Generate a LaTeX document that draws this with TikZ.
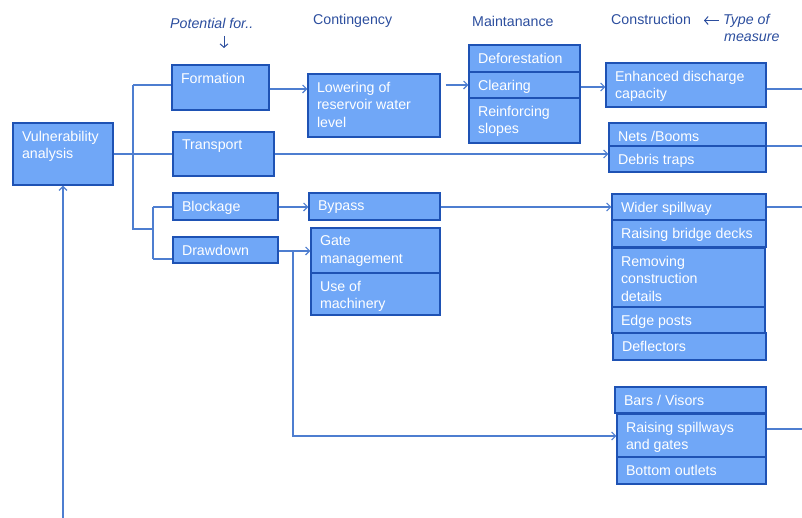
\documentclass[tikz,border=0pt]{standalone}
\usepackage{fontspec}
\setmainfont{Liberation Sans}
\usetikzlibrary{fit,arrows.meta}
\definecolor{boxfill}{RGB}{112,167,247}
\definecolor{boxline}{RGB}{30,82,180}
\definecolor{conn}{RGB}{78,126,208}
\definecolor{hdrc}{RGB}{44,78,158}
\tikzset{
  box/.style={draw=boxline, fill=boxfill, line width=1.4pt, inner sep=0pt},
  txt/.style={anchor=north west, inner sep=0pt, align=left, text=white,
    font=\fontsize{14.2}{17.5}\selectfont},
  hdr/.style={anchor=base west, inner sep=0pt, text=hdrc,
    font=\fontsize{14.2}{17}\selectfont},
  conn/.style={draw=conn, line width=1.1pt},
  arr/.style={conn, -{Straight Barb[length=4pt,width=8pt,line width=1.1pt]}},
  hdrarr/.style={draw=hdrc, line width=1pt, -{Straight Barb[length=3.5pt,width=8pt,line width=1pt]}},
}
\newcommand\bx[6]{%
  \node[box, fit={(#2,#3) (#4,#5)}] (#1) {};
  \node[txt] (#1t) at ([xshift=9.5pt,yshift=-8.5pt]#1.north west) {#6};
}
\begin{document}
\begin{tikzpicture}[x=1pt,y=-1pt]
\useasboundingbox (0,0) rectangle (802,518);
% headers
\node[hdr, font=\fontsize{14.2}{17}\selectfont\itshape] (hpot) at (170,29) {Potential for..};
\coordinate (da1) at (224,36);
\coordinate (da2) at (224,48);
\draw[hdrarr] (da1) -- (da2);
\node[hdr] (hcont) at (313,25) {Contingency};
\node[hdr] (hmain) at (472,27) {Maintanance};
\node[hdr] (hcons) at (611,25) {Construction};
\coordinate (la1) at (719,20.5);
\coordinate (la2) at (704,20.5);
\draw[hdrarr] (la1) -- (la2);
\node[hdr, font=\fontsize{14.2}{17}\selectfont\itshape] (htype) at (723,25) {Type of};
\node[hdr, font=\fontsize{14.2}{17}\selectfont\itshape] (hmeas) at (724,42) {measure};
% boxes
\bx{vuln}{13}{123}{113}{185}{Vulnerability\\analysis}
\bx{form}{172}{65}{269}{110}{Formation}
\bx{trans}{173}{132}{274}{176}{Transport}
\bx{block}{173}{193}{278}{220}{Blockage}
\bx{draw}{173}{237}{278}{263}{Drawdown}
\bx{lower}{308}{74}{440}{137}{Lowering of\\reservoir water\\level}
\bx{bypass}{309}{193}{440}{220}{Bypass}
\bx{gate}{311}{228}{440}{273}{Gate\\management}
\bx{mach}{311}{273}{440}{315}{Use of\\machinery}
\bx{defor}{469}{45}{580}{72}{Deforestation}
\bx{clear}{469}{72}{580}{98}{Clearing}
\bx{reinf}{469}{98}{580}{143}{Reinforcing\\slopes}
\bx{enh}{606}{63}{766}{107}{Enhanced discharge\\capacity}
\bx{nets}{609}{123}{766}{146}{Nets /Booms}
\bx{debris}{609}{146}{766}{172}{Debris traps}
\bx{wider}{612}{194}{766}{220}{Wider spillway}
\bx{bridge}{612}{220}{766}{247}{Raising bridge decks}
\bx{remov}{612}{248}{765}{307}{Removing\\construction\\details}
\bx{edge}{612}{307}{765}{333}{Edge posts}
\bx{defl}{613}{333}{766}{360}{Deflectors}
\bx{bars}{615}{387}{766}{413}{Bars / Visors}
\bx{rspill}{617}{414}{766}{457}{Raising spillways\\and gates}
\bx{bottom}{617}{457}{766}{484}{Bottom outlets}
% helper coordinates
\coordinate (t1) at (133,85);
\coordinate (t2) at (133,229);
\coordinate (t3) at (153,229);
\coordinate (t4) at (153,207);
\coordinate (t5) at (153,259);
\coordinate (dd) at (293,251);
\coordinate (dd2) at (293,436);
\coordinate (bot) at (63,518);
\coordinate (e1) at (802,89);
\coordinate (e2) at (802,146);
\coordinate (e3) at (802,207);
\coordinate (e4) at (802,429);
% connectors
\draw[conn] (vuln.east |- 0,154) -- (trans.west |- 0,154);
\draw[conn] (t1) -- (t2) -- (t3);
\draw[conn] (t1) -- (form.west |- t1);
\draw[conn] (t4) -- (t5);
\draw[conn] (t4) -- (block.west |- t4);
\draw[conn] (t5) -- (draw.west |- t5);
\draw[arr] (form.east |- 0,89) -- (lower.west |- 0,89);
\draw[arr] ([xshift=5pt]lower.east |- clear.west) -- (clear.west);
\draw[arr] (clear.east |- 0,87) -- (enh.west |- 0,87);
\draw[conn] (enh.east |- e1) -- (e1);
\draw[arr] (trans.east |- 0,154) -- (debris.west |- 0,154);
\draw[conn] (nets.east |- e2) -- (e2);
\draw[arr] (block.east |- 0,207) -- (bypass.west |- 0,207);
\draw[arr] (bypass.east |- 0,207) -- (wider.west |- 0,207);
\draw[conn] (wider.east |- e3) -- (e3);
\draw[arr] (draw.east |- dd) -- (gate.west |- dd);
\draw[arr] (dd) -- (dd2) -- (rspill.west |- dd2);
\draw[conn] (rspill.east |- e4) -- (e4);
\draw[arr] (bot) -- (vuln.south -| bot);
\end{tikzpicture}
\end{document}
